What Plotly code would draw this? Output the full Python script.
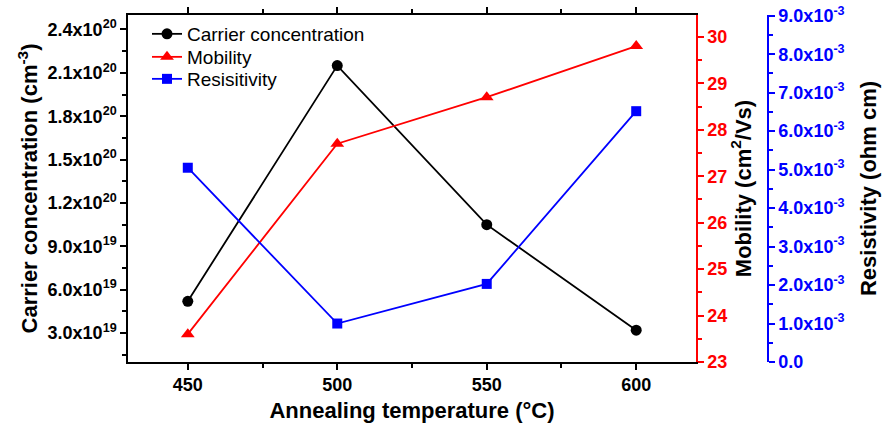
import plotly.graph_objects as go

temperature = [450, 500, 550, 600]
carrier = [5.2e19, 2.15e20, 1.05e20, 3.2e19]
mobility = [23.6, 27.7, 28.7, 29.8]
resistivity = [5.05e-3, 1.0e-3, 2.03e-3, 6.52e-3]

left_vals = [3e19, 6e19, 9e19, 1.2e20, 1.5e20, 1.8e20, 2.1e20, 2.4e20]
left_text = ["3.0x10<sup>19</sup>", "6.0x10<sup>19</sup>", "9.0x10<sup>19</sup>",
             "1.2x10<sup>20</sup>", "1.5x10<sup>20</sup>", "1.8x10<sup>20</sup>",
             "2.1x10<sup>20</sup>", "2.4x10<sup>20</sup>"]
mob_vals = [23, 24, 25, 26, 27, 28, 29, 30]
blue_vals = [0, 1e-3, 2e-3, 3e-3, 4e-3, 5e-3, 6e-3, 7e-3, 8e-3, 9e-3]
blue_text = ["0.0"] + ["%d.0x10<sup>-3</sup>" % i for i in range(1, 10)]

W, H = 883, 425
L, R, T, B = 128, 696, 15, 362
BLUE_X = 768
FONT = "Liberation Sans, Arial, sans-serif"

fig = go.Figure()
fig.add_trace(go.Scatter(x=temperature, y=carrier, name="Carrier concentration",
                         mode="lines+markers", line=dict(color="black", width=1.8),
                         marker=dict(symbol="circle", size=11, color="black"), yaxis="y",
                         legend="legend"))
fig.add_trace(go.Scatter(x=temperature, y=mobility, name="Mobility",
                         mode="lines+markers", line=dict(color="red", width=1.8),
                         marker=dict(symbol="triangle-up", size=12, color="red"), yaxis="y2",
                         legend="legend2"))
fig.add_trace(go.Scatter(x=temperature, y=resistivity, name="Resisitivity",
                         mode="lines+markers", line=dict(color="blue", width=1.8),
                         marker=dict(symbol="square", size=10, color="blue"), yaxis="y3",
                         legend="legend3"))

TS = 18
tickfont = dict(family=FONT, size=TS, color="black", weight="bold")
titlefont = dict(family=FONT, size=22, color="black", weight="bold")


def legend_at(row_y):
    return dict(x=147 / W, y=(B - row_y) / (B - T), xanchor="left",
                yanchor="middle", bgcolor="rgba(0,0,0,0)",
                font=dict(family=FONT, size=19, color="black"))


fig.update_layout(
    width=W, height=H,
    margin=dict(l=0, r=0, t=T, b=H - B, autoexpand=False),
    plot_bgcolor="white", paper_bgcolor="white",
    font=dict(family=FONT),
    showlegend=True,
    legend=legend_at(34),
    legend2=legend_at(57),
    legend3=legend_at(79),
    xaxis=dict(domain=[L / W, R / W], range=[430, 620], tickvals=temperature,
               ticks="outside", ticklen=6, tickwidth=1.5, tickcolor="black",
               minor=dict(tickmode="linear", tick0=475, dtick=50, ticks="outside", ticklen=4,
                          tickcolor="black"),
               showline=True, linecolor="black", linewidth=1.5, mirror="ticks",
               showgrid=False, zeroline=False, tickfont=tickfont,
               title=dict(text="Annealing temperature (°C)", font=titlefont, standoff=8)),
    yaxis=dict(range=[1e19, 2.5e20], tickmode="array", tickvals=left_vals, ticktext=left_text,
               ticks="outside", ticklen=6, tickwidth=1.5, tickcolor="black",
               minor=dict(tickmode="linear", tick0=1.5e19, dtick=3e19, ticks="outside",
                          ticklen=4, tickcolor="black"),
               showline=True, linecolor="black", linewidth=1.5,
               showgrid=False, zeroline=False, tickfont=tickfont,
               ticklabeloverflow="allow",
               title=dict(text="Carrier concentration (cm<sup>-3</sup>)", font=titlefont,
                          standoff=4)),
    yaxis2=dict(range=[23, 30.47], overlaying="y", side="right", anchor="x",
                tickvals=mob_vals,
                ticks="outside", ticklen=6, tickwidth=1.5, tickcolor="red",
                minor=dict(tickmode="linear", tick0=23.5, dtick=1, ticks="outside",
                           ticklen=4, tickcolor="red"),
                showline=True, linecolor="red", linewidth=1.5,
                showgrid=False, zeroline=False, ticklabeloverflow="allow",
                tickfont=dict(family=FONT, size=TS, color="red", weight="bold"),
                title=dict(text="Mobility (cm<sup>2</sup>/Vs)", font=titlefont, standoff=4)),
    yaxis3=dict(range=[0, 9.02e-3], overlaying="y", side="right", anchor="free",
                position=BLUE_X / W, tickmode="array", tickvals=blue_vals, ticktext=blue_text,
                ticks="outside", ticklen=6, tickwidth=1.5, tickcolor="blue",
                minor=dict(tickmode="linear", tick0=0.5e-3, dtick=1e-3, ticks="outside",
                           ticklen=4, tickcolor="blue"),
                showline=True, linecolor="blue", linewidth=1.5,
                showgrid=False, zeroline=False, ticklabeloverflow="allow",
                tickfont=dict(family=FONT, size=TS, color="blue", weight="bold"),
                title=dict(text="Resistivity (ohm cm)", font=titlefont, standoff=16)),
)

fig.write_html("out.html", config={"displayModeBar": False},
               post_script="document.body.style.margin='0px';document.body.style.overflow='hidden';")
